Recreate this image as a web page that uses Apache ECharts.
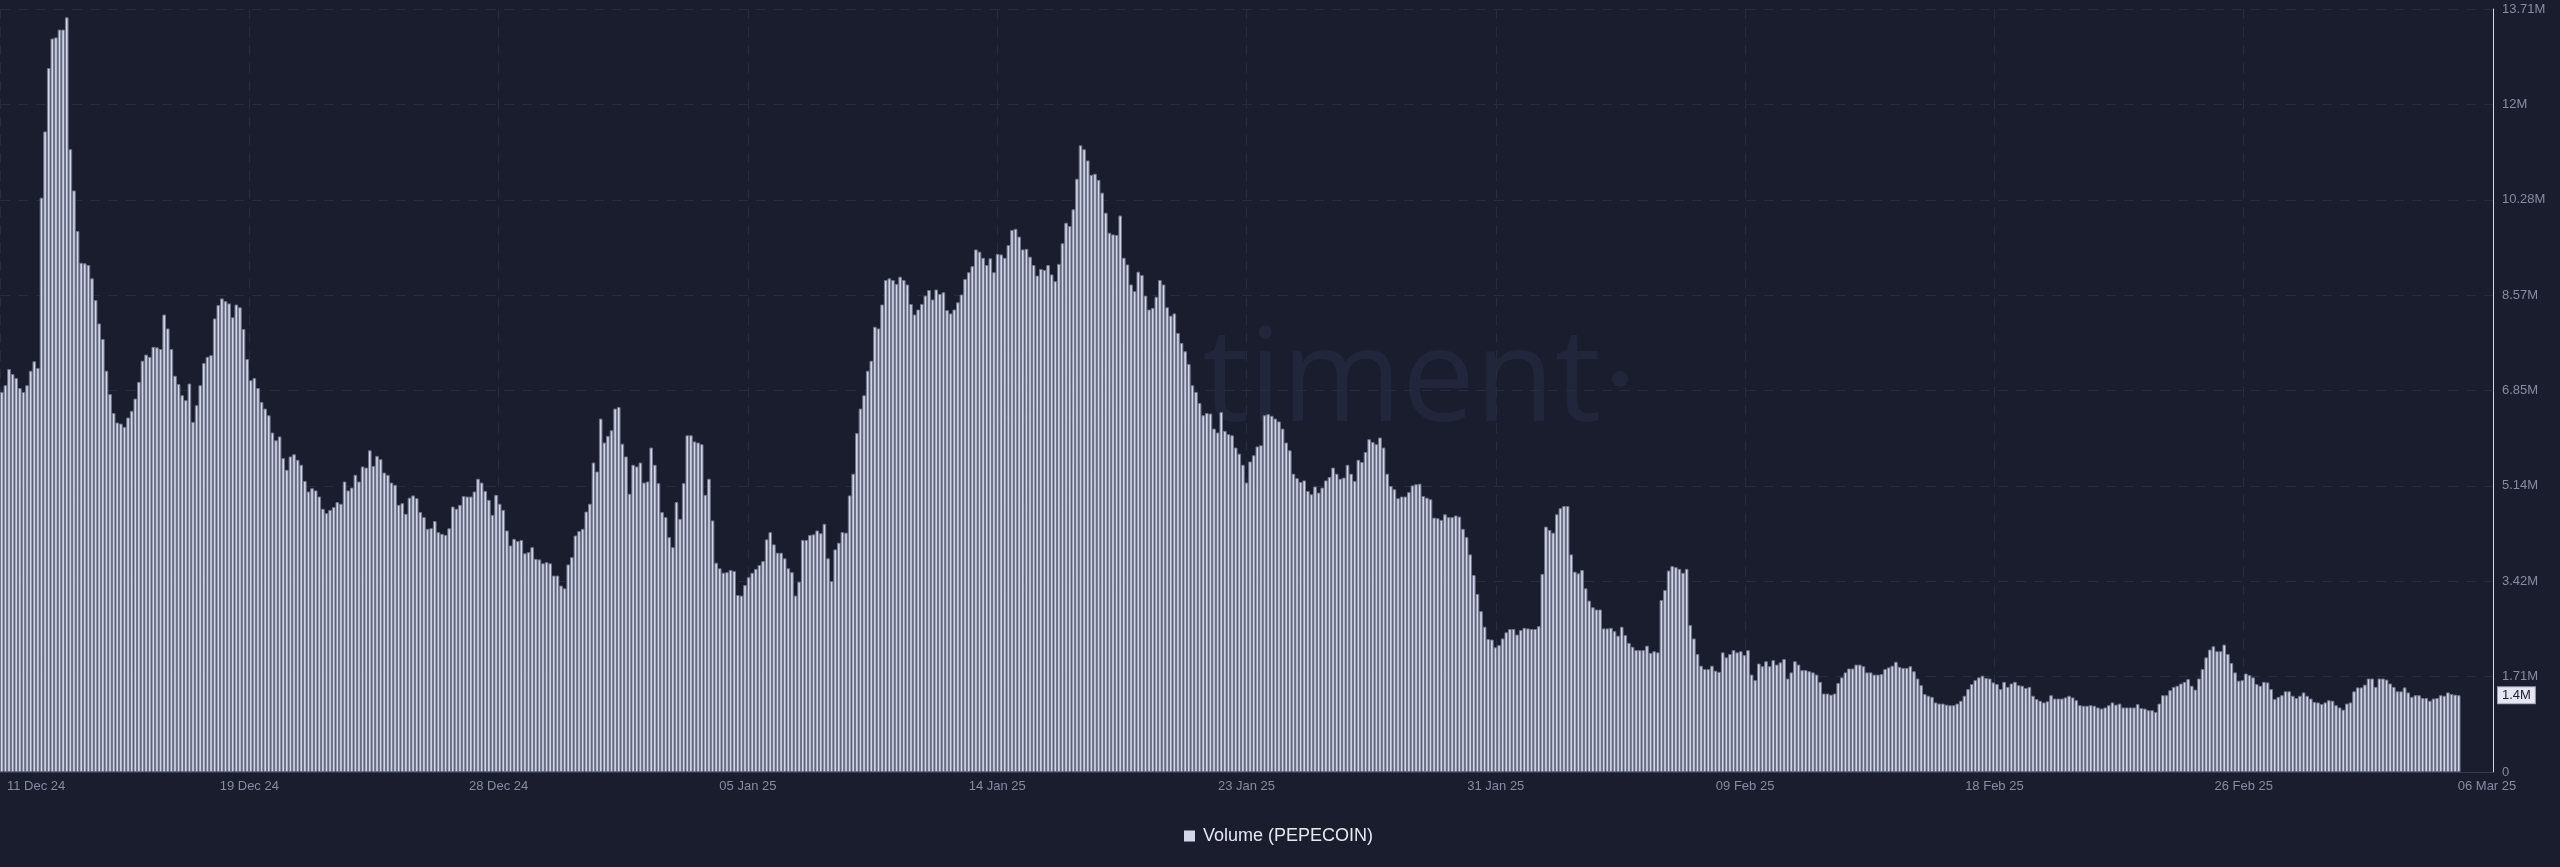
<!DOCTYPE html>
<html>
<head>
<meta charset="utf-8">
<script src="https://cdn.jsdelivr.net/npm/echarts@6/dist/echarts.min.js"></script>
<style>
html,body{margin:0;padding:0;background:#1a1d2d;}
#chart{width:2560px;height:867px;}
</style>
</head>
<body>
<div id="chart"></div>
<script>
// ---- tick labels ----
const xTickLabels = ['11 Dec 24','19 Dec 24','28 Dec 24','05 Jan 25','14 Jan 25','23 Jan 25','31 Jan 25','09 Feb 25','18 Feb 25','26 Feb 25','06 Mar 25'];
const yTickLabels = ['0','1.71M','3.42M','5.14M','6.85M','8.57M','10.28M','12M','13.71M'];
const yMax = 13.71; // millions

// ---- 3-hourly volume (PEPECOIN), millions ----
// 11 Dec - ~1 Jan
const volA = [6.83,6.95,7.24,7.15,7.08,6.90,6.83,6.95,7.21,7.38,7.26,10.32,11.51,12.65,13.18,13.20,13.34,13.34,13.56,11.19,
10.45,9.72,9.15,9.14,9.11,8.87,8.48,8.06,7.78,7.21,6.79,6.45,6.28,6.26,6.20,6.37,6.49,6.71,7.01,7.39,
7.50,7.46,7.64,7.63,7.60,8.22,7.97,7.60,7.12,6.97,6.77,6.68,6.98,6.29,6.59,6.95,7.35,7.46,7.49,8.15,
8.39,8.51,8.46,8.42,8.17,8.40,8.35,7.96,7.42,7.04,7.08,6.90,6.65,6.53,6.41,6.10,5.96,6.03,5.64,5.43,
5.67,5.71,5.61,5.52,5.23,5.04,5.10,5.06,4.95,4.73,4.65,4.71,4.76,4.85,4.82,5.22,5.06,5.11,5.34,5.22,
5.49,5.47,5.78,5.50,5.68,5.62,5.38,5.34,5.20,5.16,4.80,4.83,4.64,4.93,4.97,4.92,4.67,4.58,4.37,4.38,
4.51,4.31,4.28,4.26,4.38,4.77,4.73,4.80,4.96,4.95,4.95,5.04,5.27,5.20,5.05,4.89,4.62,4.98,4.82,4.71,
4.34,4.07,4.19,4.15,4.17,3.93,3.95,4.04,3.83,3.82,3.75,3.77,3.75,3.53,3.53,3.35,3.30,3.73,3.86,4.25,
4.33,4.37,4.68,4.82,5.56,5.40,6.35,5.92,6.04,6.14,6.53,6.56,5.90,5.67,5.00,5.52,5.49,5.56];
// ~2 Jan - ~21 Jan
const volB = [5.20,5.22,5.83,5.52,5.19,4.67,4.58,4.22,4.04,4.85,4.55,5.19,6.05,6.05,5.94,5.92,5.89,4.98,5.27,4.52,
3.76,3.66,3.58,3.59,3.63,3.61,3.18,3.17,3.36,3.50,3.58,3.65,3.72,3.79,4.18,4.31,4.09,3.94,3.94,3.84,
3.66,3.59,3.17,3.42,4.17,4.17,4.26,4.27,4.34,4.29,4.46,3.84,3.43,4.00,4.12,4.31,4.30,4.97,5.36,6.09,
6.53,6.77,7.21,7.39,8.00,7.97,8.40,8.84,8.87,8.84,8.77,8.90,8.84,8.76,8.41,8.22,8.31,8.41,8.56,8.66,
8.49,8.67,8.59,8.62,8.30,8.24,8.31,8.44,8.58,8.86,8.98,9.09,9.39,9.35,9.24,9.11,9.23,8.98,9.31,9.30,
9.24,9.47,9.74,9.76,9.62,9.39,9.40,9.26,9.11,8.92,9.04,9.02,9.11,8.94,8.82,9.13,9.50,9.87,9.81,10.11,
10.66,11.26,11.19,10.99,10.73,10.75,10.64,10.41,10.05,9.69,9.66,9.65,10.00,9.24,9.12,8.76,8.64,8.99,8.93,8.56,
8.31,8.34,8.54,8.84,8.76,8.35,8.20,8.24,7.89,7.71,7.56,7.33,6.95,6.83,6.63,6.41,6.45,6.44,6.17,6.10,
6.47,6.13,6.07,6.05,5.83,5.72,5.52,5.20,5.58,5.69,5.85,5.87];
// ~23 Jan - ~14 Feb
const volC = [6.41,6.43,6.40,6.35,6.30,6.17,5.92,5.78,5.36,5.28,5.21,5.24,5.05,4.99,5.13,5.02,5.11,5.24,5.30,5.47,
5.36,5.27,5.29,5.52,5.36,5.23,5.61,5.57,5.75,5.98,5.93,5.89,6.01,5.83,5.36,5.14,5.08,4.92,4.95,4.95,
5.03,5.15,5.17,5.18,4.96,4.93,4.90,4.57,4.56,4.53,4.63,4.58,4.58,4.61,4.59,4.37,4.22,3.91,3.54,3.20,
2.89,2.61,2.39,2.38,2.24,2.28,2.40,2.51,2.57,2.57,2.47,2.55,2.59,2.58,2.57,2.57,2.62,3.56,4.41,4.35,
4.30,4.63,4.74,4.78,4.78,3.91,3.60,3.57,3.63,3.30,3.08,2.96,2.92,2.92,2.58,2.58,2.59,2.53,2.45,2.61,
2.46,2.32,2.25,2.19,2.19,2.19,2.27,2.14,2.17,2.15,3.09,3.27,3.62,3.70,3.68,3.65,3.58,3.65,2.64,2.40,
2.12,1.91,1.85,1.85,1.91,1.82,1.80,2.15,2.06,2.12,2.19,2.15,2.17,2.10,2.19,1.75,1.65,1.95,1.90,1.99,
1.90,2.01,1.93,1.97,2.03,1.68,1.79,1.99,1.93,1.83,1.83,1.81,1.79,1.75,1.62,1.41,1.41,1.39,1.41,1.60,
1.70,1.79,1.86,1.86,1.93,1.93,1.90,1.79,1.79,1.75,1.75];
// ~14 Feb - 5 Mar
const volD = [1.76,1.85,1.88,1.91,1.98,1.89,1.87,1.87,1.90,1.81,1.68,1.56,1.40,1.37,1.35,1.25,1.23,1.23,1.21,1.20,
1.20,1.23,1.28,1.37,1.49,1.58,1.65,1.70,1.73,1.69,1.68,1.61,1.58,1.49,1.62,1.53,1.59,1.62,1.56,1.55,
1.51,1.53,1.37,1.31,1.28,1.25,1.27,1.38,1.32,1.32,1.32,1.34,1.37,1.34,1.29,1.20,1.19,1.19,1.20,1.19,
1.16,1.14,1.16,1.20,1.25,1.21,1.23,1.16,1.16,1.16,1.16,1.22,1.15,1.14,1.11,1.11,1.08,1.23,1.38,1.38,
1.47,1.53,1.55,1.59,1.62,1.67,1.55,1.48,1.68,1.85,2.06,2.20,2.26,2.17,2.17,2.29,2.12,1.96,1.79,1.64,
1.65,1.77,1.74,1.70,1.58,1.55,1.62,1.61,1.49,1.31,1.35,1.38,1.45,1.45,1.37,1.33,1.37,1.43,1.37,1.32,
1.26,1.25,1.22,1.25,1.29,1.28,1.20,1.16,1.12,1.23,1.25,1.45,1.52,1.52,1.57,1.68,1.68,1.53,1.68,1.68,
1.66,1.59,1.53,1.45,1.45,1.52,1.43,1.35,1.38,1.38,1.33,1.33,1.28,1.32,1.33,1.38,1.37,1.43,1.40,1.39,
1.38];

const volume = volA.concat(volB, volC, volD).map(v => v * 1e6);
const padSlots = 9; // empty time slots up to the axis end
const startMs = Date.UTC(2024, 11, 11, 0, 0);
const categories = [];
for (let i = 0; i < volume.length + padSlots; i++) {
  const d = new Date(startMs + i * 3 * 3600 * 1000);
  categories.push(d.toISOString().slice(0, 16));
}
const lastVal = volume[volume.length - 1];

const chart = echarts.init(document.getElementById('chart'), null, {renderer: 'canvas'});
const FONT = '"Liberation Sans", Arial, sans-serif';
const gridLine = {show: true, lineStyle: {color: '#282c3f', type: [10, 8], width: 1}};
const GRID_RIGHT = 67;

chart.setOption({
  backgroundColor: '#1a1d2d',
  animation: false,
  textStyle: {fontFamily: FONT},
  graphic: [
    {id: 'wm', type: 'text', z: -10, silent: true,
     style: {x: 1601, y: 384, text: 'santiment', textAlign: 'right', textVerticalAlign: 'middle',
             font: '400 130px "Open Sans", sans-serif', fill: '#22263a'}},
    {id: 'wmdot', type: 'circle', z: -10, silent: true, shape: {cx: 1620, cy: 379, r: 8}, style: {fill: '#22263a'}}
  ],
  grid: {left: 0, right: GRID_RIGHT, top: 9, bottom: 95, containLabel: false},
  legend: {
    left: 1179, top: 822, icon: 'rect', itemWidth: 11, itemHeight: 11, itemGap: 10,
    textStyle: {color: '#e6e8f1', fontSize: 18, fontFamily: FONT, padding: [0, 0, 0, 3]},
    data: [{name: 'Volume (PEPECOIN)', itemStyle: {color: '#d3d6e8', borderWidth: 0}}]
  },
  xAxis: [
    {
      type: 'category', data: categories, boundaryGap: true,
      axisLine: {show: true, onZero: false, lineStyle: {color: '#353a4e', width: 1}},
      axisTick: {show: false}, axisLabel: {show: false}, splitLine: {show: false}
    },
    {
      type: 'value', min: 0, max: xTickLabels.length - 1, interval: 1, position: 'bottom',
      axisLine: {show: false, onZero: false}, axisTick: {show: false},
      splitLine: gridLine,
      axisLabel: {
        show: true, color: '#878ca2', fontSize: 13, fontFamily: FONT, margin: 8,
        alignMinLabel: 'left',
        formatter: function (v) {
          const i = Math.round(v);
          if (i === 0) return '{first|' + xTickLabels[0] + '}';
          if (i === xTickLabels.length - 1) return '{last|' + xTickLabels[i] + '}';
          return xTickLabels[i];
        },
        rich: {
          first: {padding: [0, 0, 0, 7], color: '#878ca2', fontSize: 13, fontFamily: FONT},
          last: {padding: [0, 12, 0, 0], color: '#878ca2', fontSize: 13, fontFamily: FONT}
        }
      }
    }
  ],
  yAxis: {
    type: 'value', position: 'right', min: 0, max: yMax * 1e6, interval: yMax * 1e6 / 8,
    axisLine: {show: true, onZero: false, lineStyle: {color: '#d4d7e6', width: 1}},
    axisTick: {show: false},
    splitLine: gridLine,
    axisLabel: {
      color: '#878ca2', fontSize: 13, fontFamily: FONT, margin: 9,
      formatter: function (v, idx) { return yTickLabels[idx] !== undefined ? yTickLabels[idx] : ''; }
    }
  },
  series: [{
    name: 'Volume (PEPECOIN)',
    type: 'bar', xAxisIndex: 0, yAxisIndex: 0,
    data: volume,
    barCategoryGap: '0%',
    itemStyle: {color: '#d3d6e8', borderColor: '#6f7489', borderWidth: 1},
    emphasis: {disabled: true}
  }]
});

// last-value tag on the right axis, positioned through the y scale
const tagY = chart.convertToPixel({yAxisIndex: 0}, lastVal);
chart.setOption({
  graphic: [
    {id: 'lastTag', type: 'text', z: 100, silent: true,
     style: {x: 2560 - GRID_RIGHT + 5, y: tagY, text: (lastVal / 1e6).toFixed(1) + 'M',
             textAlign: 'left', textVerticalAlign: 'middle',
             font: '13px "Liberation Sans", Arial, sans-serif', fill: '#1a1d2d',
             backgroundColor: '#e4e6f1', borderColor: '#9da1b5', borderWidth: 1,
             padding: [2, 4, 1, 4]}}
  ]
});
</script>
</body>
</html>
